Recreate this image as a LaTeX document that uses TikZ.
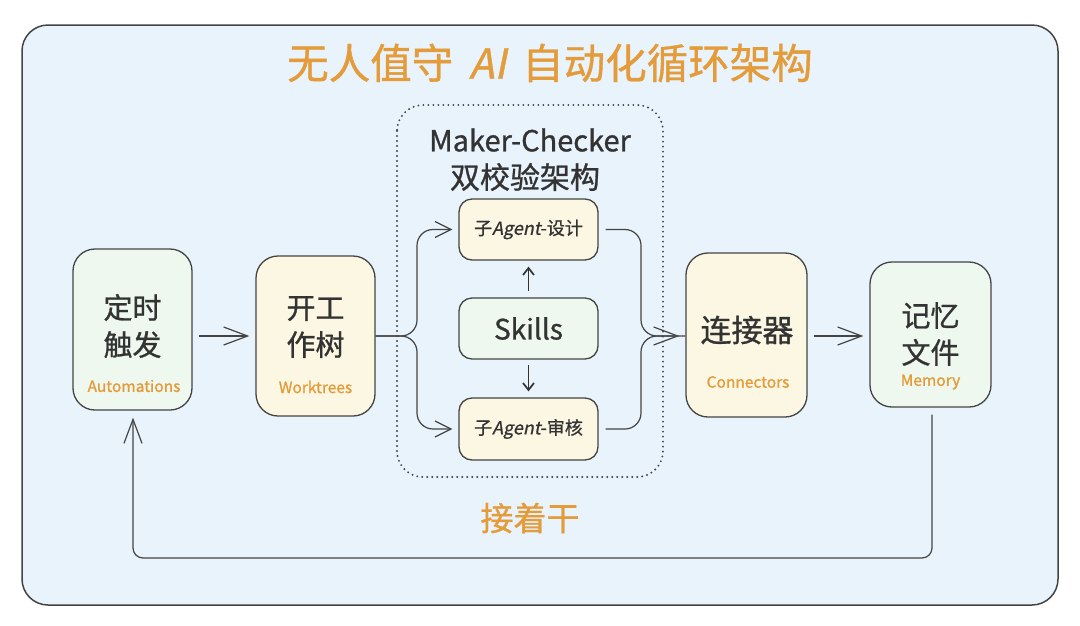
\documentclass[tikz,border=0pt]{standalone}
\usepackage{fontspec}
\setmainfont{Noto Sans CJK SC}[FakeBold=0.9, AutoFakeSlant=0.2]
\usetikzlibrary{arrows.meta}
\definecolor{bgblue}{HTML}{E9F3FC}
\definecolor{boxgreen}{HTML}{EEF8EE}
\definecolor{boxyellow}{HTML}{FCF7E3}
\definecolor{accent}{HTML}{E49B3A}
\definecolor{ink}{HTML}{333333}
\definecolor{edge}{HTML}{444444}
\tikzset{
  bigbox/.style={draw=edge, line width=1.3pt, rounded corners=22pt, inner sep=0pt},
  smallbox/.style={draw=edge, line width=1.3pt, rounded corners=13pt, inner sep=0pt, minimum width=139pt, minimum height=61pt},
  maintext/.style={text=ink, align=center, font=\fontsize{29}{37}\selectfont, inner sep=0pt},
  sublabel/.style={text=accent, font=\fontsize{15.5}{18}\selectfont, inner sep=0pt},
  conn/.style={draw=edge, line width=1.2pt},
  bigarr/.style={conn, -{Straight Barb[length=24pt,width=18pt]}},
  midarr/.style={conn, -{Straight Barb[length=16pt,width=16pt]}},
  smallarr/.style={conn, draw=ink, line width=1.7pt, -{Straight Barb[length=7pt,width=11pt]}},
}
\begin{document}
\begin{tikzpicture}[x=1pt,y=-1pt]
\useasboundingbox (0,0) rectangle (1080,625);
\fill[white] (0,0) rectangle (1080,625);
\draw[draw=edge, line width=1.5pt, fill=bgblue, rounded corners=26pt] (22,25) rectangle (1058,605);

% title
\node[text=accent, font=\fontsize{41.5}{46}\selectfont, inner sep=0pt] (title) at (550,63) {无人值守\hspace{0.38em}\textit{AI}\hspace{0.38em}自动化循环架构};

% dotted group
\draw[draw=edge, line width=2.1pt, line cap=round, dash pattern=on 0pt off 5pt, rounded corners=26pt] (397,105) rectangle (663,477);
\node[text=ink, font=\fontsize{29}{32}\selectfont, inner sep=0pt] (mc) at (530,140) {Maker-Checker};
\node[text=ink, font=\fontsize{30}{34}\selectfont, inner sep=0pt] (mc2) at (525,177) {双校验架构};

% main boxes
\node[bigbox, fill=boxgreen, minimum width=119pt, minimum height=161pt] (auto) at (132.5,329.5) {};
\node[maintext] (autoT) at (132.5,326) {定时\\触发};
\node[sublabel] (autoL) at (134,386) {Automations};

\node[bigbox, fill=boxyellow, minimum width=119pt, minimum height=160pt] (work) at (315.5,336) {};
\node[maintext] (workT) at (315.5,327) {开工\\作树};
\node[sublabel] (workL) at (315.5,387) {Worktrees};

\node[bigbox, fill=boxyellow, minimum width=121pt, minimum height=164pt] (conne) at (746.5,335) {};
\node[maintext, font=\fontsize{31}{37}\selectfont] (conneT) at (747,330) {连接器};
\node[sublabel] (conneL) at (748,382) {Connectors};

\node[bigbox, fill=boxgreen, minimum width=121pt, minimum height=145pt] (mem) at (930.5,334.5) {};
\node[maintext] (memT) at (930.5,334) {记忆\\文件};
\node[sublabel] (memL) at (930.5,382) {Memory};

% inner boxes
\node[smallbox, fill=boxyellow, text=ink, font=\fontsize{18}{22}\selectfont] (design) at (528.5,229.5) {子\textit{Agent}-设计};
\node[smallbox, fill=boxgreen, text=ink, font=\fontsize{28}{32}\selectfont] (skills) at (528.5,328.5) {Skills};
\node[smallbox, fill=boxyellow, text=ink, font=\fontsize{18}{22}\selectfont, minimum height=62pt] (review) at (528.5,429) {子\textit{Agent}-审核};

% bottom text
\node[text=accent, font=\fontsize{33}{38}\selectfont, inner sep=0pt] (again) at (530,518) {接着干};

% arrows
\draw[bigarr, shorten <=6pt, shorten >=6pt] (auto.east |- 0,336) -- (work.west |- 0,336);
\draw[bigarr, shorten <=6pt, shorten >=6pt] (conne.east |- 0,336) -- (mem.west |- 0,336);

\coordinate (splitL) at (417,336);
\coordinate (joinR) at (641,336);
\draw[midarr, rounded corners=16pt, shorten >=6pt] (work.east |- splitL) -- (splitL) -- (splitL |- design.west) -- (design.west);
\draw[midarr, rounded corners=16pt, shorten >=6pt] (work.east |- splitL) -- (splitL) -- (splitL |- review.west) -- (review.west);
\draw[conn, rounded corners=16pt, shorten <=7pt] (design.east) -- (joinR |- design.east) -- (joinR) -- (conne.west |- joinR);
\draw[bigarr, rounded corners=16pt, shorten <=7pt, shorten >=6pt] (review.east) -- (joinR |- review.east) -- (joinR) -- (conne.west |- joinR);

\draw[smallarr, shorten <=6pt, shorten >=6pt] (skills.north) -- (design.south);
\draw[smallarr, shorten <=5pt, shorten >=6pt] (skills.south) -- (review.north);

% loop back
\coordinate (loopR) at (932,558);
\coordinate (loopL) at (133,558);
\draw[bigarr, rounded corners=10pt, shorten <=7pt, shorten >=7pt] (mem.south -| loopR) -- (loopR) -- (loopL) -- (auto.south -| loopL);
\end{tikzpicture}
\end{document}
